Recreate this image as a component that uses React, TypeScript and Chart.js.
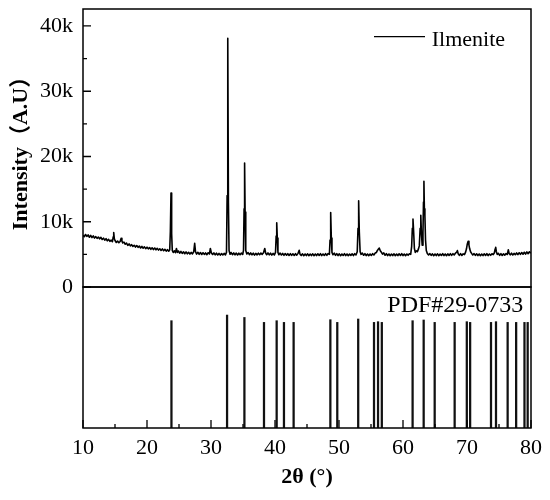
import React, { useEffect, useRef } from 'react';
import { Chart, registerables } from 'chart.js';

Chart.register(...registerables);

const FONT = "'Liberation Serif', 'Times New Roman', 'Noto Sans CJK SC', serif";

// 2θ (°) and intensity (k counts)
const traceData: [number, number][] = [
  [10.0, 7.92], [10.2, 7.70], [10.4, 8.05], [10.6, 7.75], [10.8, 7.98], [11.0, 7.62], [11.2, 7.90], [11.4, 7.58],
  [11.6, 7.82], [11.8, 7.50], [12.0, 7.72], [12.2, 7.45], [12.4, 7.66], [12.6, 7.38], [12.8, 7.60], [13.0, 7.28],
  [13.2, 7.48], [13.4, 7.18], [13.6, 7.40], [13.8, 7.08], [14.0, 7.30], [14.2, 7.00], [14.4, 7.18], [14.6, 6.95],
  [14.72, 7.7], [14.8, 8.35], [14.9, 7.4], [15.0, 7.12], [15.2, 6.82], [15.4, 7.05], [15.6, 6.78], [15.8, 6.98],
  [15.95, 7.45], [16.08, 7.05], [16.2, 6.75], [16.4, 6.88], [16.6, 6.55], [16.8, 6.72], [17.0, 6.38], [17.2, 6.60],
  [17.4, 6.30], [17.6, 6.48], [17.8, 6.22], [18.0, 6.40], [18.2, 6.12], [18.4, 6.35], [18.6, 6.08], [18.8, 6.28],
  [19.0, 5.98], [19.2, 6.22], [19.4, 5.95], [19.6, 6.15], [19.8, 5.88], [20.0, 6.10], [20.2, 5.85], [20.4, 6.05],
  [20.6, 5.78], [20.8, 6.00], [21.0, 5.74], [21.2, 5.98], [21.4, 5.70], [21.6, 5.92], [21.8, 5.66], [22.0, 5.86],
  [22.2, 5.60], [22.4, 5.84], [22.6, 5.56], [22.8, 5.78], [23.0, 5.50], [23.2, 5.72], [23.4, 5.48], [23.55, 5.70],
  [23.65, 8.5], [23.75, 14.4], [23.85, 8.2], [23.95, 5.6], [24.1, 5.30], [24.3, 5.55], [24.45, 5.25], [24.6, 5.90],
  [24.75, 5.30], [24.9, 5.52], [25.1, 5.18], [25.3, 5.45], [25.5, 5.15], [25.7, 5.40], [25.9, 5.10], [26.1, 5.38],
  [26.3, 5.08], [26.5, 5.32], [26.7, 5.05], [26.9, 5.30], [27.1, 5.08], [27.3, 5.40], [27.45, 6.70], [27.58, 5.40],
  [27.75, 5.05], [27.95, 5.32], [28.15, 5.00], [28.35, 5.28], [28.55, 4.98], [28.75, 5.25], [28.95, 5.00], [29.15, 5.22],
  [29.35, 4.95], [29.55, 5.25], [29.75, 5.05], [29.9, 5.90], [30.05, 5.25], [30.25, 4.98], [30.45, 5.22], [30.65, 4.92],
  [30.85, 5.18], [31.05, 4.90], [31.25, 5.15], [31.45, 4.88], [31.65, 5.12], [31.85, 4.90], [32.05, 5.15], [32.25, 4.92],
  [32.42, 5.30], [32.52, 14.0], [32.62, 38.1], [32.72, 13.0], [32.82, 5.60], [32.98, 5.02], [33.15, 5.28], [33.35, 4.95],
  [33.55, 5.22], [33.75, 4.92], [33.95, 5.20], [34.15, 4.90], [34.35, 5.18], [34.55, 4.95], [34.75, 5.20], [34.95, 4.98],
  [35.08, 5.6], [35.17, 12.0], [35.25, 19.0], [35.33, 11.5], [35.43, 5.6], [35.6, 5.05], [35.8, 5.28], [36.0, 4.95],
  [36.2, 5.22], [36.4, 4.92], [36.6, 5.18], [36.8, 4.88], [37.0, 5.15], [37.2, 4.92], [37.4, 5.18], [37.6, 4.95],
  [37.8, 5.20], [38.0, 5.00], [38.2, 5.25], [38.4, 5.90], [38.55, 5.15], [38.7, 4.95], [38.9, 5.22], [39.1, 4.92],
  [39.3, 5.18], [39.5, 4.88], [39.7, 5.15], [39.9, 4.90], [40.08, 5.3], [40.18, 7.8], [40.27, 9.85], [40.36, 7.5],
  [40.46, 5.3], [40.6, 4.95], [40.8, 5.20], [41.0, 4.90], [41.2, 5.15], [41.4, 4.85], [41.6, 5.12], [41.8, 4.88],
  [42.0, 5.10], [42.2, 4.84], [42.4, 5.10], [42.6, 4.86], [42.8, 5.08], [43.0, 4.84], [43.2, 5.10], [43.4, 4.88],
  [43.6, 5.15], [43.78, 5.62], [43.92, 5.00], [44.1, 4.82], [44.3, 5.08], [44.5, 4.80], [44.7, 5.06], [44.9, 4.82],
  [45.1, 5.08], [45.3, 4.80], [45.5, 5.05], [45.7, 4.82], [45.9, 5.08], [46.1, 4.80], [46.3, 5.06], [46.5, 4.82],
  [46.7, 5.08], [46.9, 4.84], [47.1, 5.10], [47.3, 4.82], [47.5, 5.06], [47.7, 4.84], [47.9, 5.10], [48.1, 4.86],
  [48.3, 5.12], [48.5, 5.00], [48.6, 7.2], [48.7, 11.4], [48.8, 7.5], [48.9, 5.3], [49.05, 4.95], [49.25, 5.18],
  [49.45, 4.86], [49.65, 5.10], [49.85, 4.82], [50.05, 5.08], [50.25, 4.80], [50.45, 5.06], [50.65, 4.84], [50.85, 5.10],
  [51.05, 4.82], [51.25, 5.06], [51.45, 4.80], [51.65, 5.05], [51.85, 4.84], [52.05, 5.08], [52.25, 4.82], [52.45, 5.10],
  [52.65, 4.90], [52.85, 5.40], [52.97, 9.0], [53.07, 13.2], [53.17, 8.5], [53.3, 5.40], [53.45, 5.00], [53.65, 5.20],
  [53.85, 4.86], [54.05, 5.10], [54.25, 4.82], [54.45, 5.06], [54.65, 4.80], [54.85, 5.06], [55.05, 4.84], [55.25, 5.10],
  [55.45, 4.90], [55.65, 5.20], [55.85, 5.30], [56.0, 5.60], [56.15, 5.80], [56.3, 5.95], [56.45, 5.55], [56.6, 5.35],
  [56.8, 5.05], [57.0, 5.22], [57.2, 4.86], [57.4, 5.10], [57.6, 4.82], [57.8, 5.06], [58.0, 4.80], [58.2, 5.05],
  [58.4, 4.82], [58.6, 5.08], [58.8, 4.80], [59.0, 5.05], [59.2, 4.82], [59.4, 5.08], [59.6, 4.84], [59.8, 5.10],
  [60.0, 4.82], [60.2, 5.05], [60.4, 4.80], [60.6, 5.06], [60.8, 4.86], [61.0, 5.10], [61.2, 5.00], [61.35, 6.2],
  [61.46, 9.0], [61.56, 10.4], [61.66, 8.5], [61.78, 5.9], [61.92, 5.30], [62.1, 5.55], [62.25, 5.40], [62.4, 5.80],
  [62.55, 6.30], [62.68, 9.0], [62.78, 11.0], [62.88, 8.2], [63.0, 6.40], [63.12, 8.3], [63.2, 13.0], [63.27, 16.2],
  [63.34, 12.0], [63.42, 11.0], [63.52, 7.2], [63.64, 5.60], [63.8, 5.15], [64.0, 4.90], [64.2, 5.12], [64.4, 4.84],
  [64.6, 5.08], [64.8, 4.80], [65.0, 5.06], [65.2, 4.82], [65.4, 5.08], [65.6, 4.80], [65.8, 5.05], [66.0, 4.84],
  [66.2, 5.10], [66.4, 4.82], [66.6, 5.06], [66.8, 4.80], [67.0, 5.08], [67.2, 4.84], [67.4, 5.10], [67.6, 4.86],
  [67.8, 5.10], [68.0, 4.90], [68.2, 5.20], [68.4, 5.35], [68.5, 5.58], [68.62, 5.10], [68.8, 4.86], [69.0, 5.10],
  [69.2, 4.84], [69.4, 5.08], [69.6, 4.96], [69.78, 5.35], [69.92, 5.85], [70.05, 6.60], [70.18, 7.00], [70.3, 6.45],
  [70.42, 5.85], [70.56, 5.40], [70.72, 5.15], [70.9, 4.90], [71.1, 5.12], [71.3, 4.84], [71.5, 5.08], [71.7, 4.82],
  [71.9, 5.06], [72.1, 4.80], [72.3, 5.05], [72.5, 4.82], [72.7, 5.08], [72.9, 4.84], [73.1, 5.10], [73.3, 4.82],
  [73.5, 5.06], [73.7, 4.86], [73.9, 5.10], [74.1, 4.96], [74.28, 5.25], [74.4, 5.85], [74.48, 6.10], [74.58, 5.45],
  [74.72, 5.00], [74.9, 5.15], [75.1, 4.86], [75.3, 5.10], [75.5, 4.84], [75.7, 5.08], [75.9, 4.88], [76.1, 5.12],
  [76.3, 4.98], [76.45, 5.70], [76.58, 5.15], [76.75, 4.92], [76.95, 5.18], [77.15, 4.90], [77.35, 5.15], [77.55, 4.94],
  [77.75, 5.22], [77.95, 4.96], [78.15, 5.25], [78.35, 5.00], [78.55, 5.28], [78.75, 5.02], [78.95, 5.32], [79.15, 5.05],
  [79.35, 5.38], [79.55, 5.10], [79.75, 5.40], [80.0, 5.20],
];

// PDF#29-0733 reference lines: 2θ positions and relative heights (0–100)
const pdfTheta = [
  23.82, 32.51, 35.22, 38.28, 40.26, 41.4, 42.91, 48.65, 49.73, 53.0, 55.47, 56.1, 56.69,
  61.5, 63.23, 64.95, 68.07, 69.97, 70.49, 73.75, 74.53, 76.35, 77.68, 78.98, 79.48,
];
const pdfHeight = [
  76.1, 80.1, 78.4, 74.9, 76.1, 74.9, 74.9, 76.8, 74.9, 77.3, 74.9, 75.4, 74.9,
  76.1, 76.6, 74.9, 74.9, 75.4, 74.9, 74.9, 75.4, 74.9, 74.9, 74.9, 74.9,
];

const xRange = [10, 80];
const yRange = [0, 42.6];
const seriesLabel = 'Ilmenite';
const cardLabel = 'PDF#29-0733';
const xTitle = '2θ (°)';
const yTitle = 'Intensity（A.U）';

const decorPlugin = {
  id: 'decor',
  afterDraw(chart: any) {
    const { ctx } = chart;
    const x = chart.scales.x;
    const y = chart.scales.y;
    const y2 = chart.scales.y2;
    const left = x.left;
    const right = x.right;
    ctx.save();
    ctx.strokeStyle = '#000';
    ctx.fillStyle = '#000';
    ctx.lineWidth = 1.5;
    ctx.strokeRect(left, y.top, right - left, y.bottom - y.top);
    ctx.strokeRect(left, y2.top, right - left, y2.bottom - y2.top);

    ctx.lineWidth = 1.3;
    ctx.beginPath();
    y.ticks.forEach((t: any) => {
      if (t.value % 10 !== 0) return;
      const p = y.getPixelForValue(t.value);
      ctx.moveTo(left, p);
      ctx.lineTo(left + 8, p);
      const m = t.value + 5;
      if (m < y.max) {
        const pm = y.getPixelForValue(m);
        ctx.moveTo(left, pm);
        ctx.lineTo(left + 4, pm);
      }
    });
    x.ticks.forEach((t: any) => {
      const p = x.getPixelForValue(t.value);
      ctx.moveTo(p, x.top);
      ctx.lineTo(p, x.top - 8);
      const m = t.value + 5;
      if (m < x.max) {
        const pm = x.getPixelForValue(m);
        ctx.moveTo(pm, x.top);
        ctx.lineTo(pm, x.top - 4);
      }
    });
    ctx.stroke();

    // legend
    ctx.lineWidth = 1.3;
    ctx.beginPath();
    ctx.moveTo(right - 157, y.top + 27.7);
    ctx.lineTo(right - 106, y.top + 27.7);
    ctx.stroke();
    ctx.font = `22px ${FONT}`;
    ctx.textAlign = 'left';
    ctx.textBaseline = 'alphabetic';
    ctx.fillText(seriesLabel, right - 99.3, y.top + 36.7);

    // reference card label
    ctx.font = `24px ${FONT}`;
    ctx.textAlign = 'right';
    ctx.fillText(cardLabel, right - 7.7, y2.top + 25.3);
    ctx.restore();
  },
};

const noPad = (s: any) => {
  s.paddingTop = 0;
  s.paddingBottom = 0;
};

export default function App() {
  const ref = useRef<HTMLCanvasElement | null>(null);

  useEffect(() => {
    if (!ref.current) return;
    const chart = new Chart(ref.current, {
      type: 'bar',
      data: {
        datasets: [
          {
            type: 'line',
            label: seriesLabel,
            data: traceData.map(([t, v]) => ({ x: t, y: v })),
            xAxisID: 'x',
            yAxisID: 'y',
            borderColor: '#000',
            borderWidth: 1.6,
            borderJoinStyle: 'round',
            pointRadius: 0,
            tension: 0,
            fill: false,
          } as any,
          {
            type: 'bar',
            label: cardLabel,
            data: pdfTheta.map((t, i) => ({ x: t, y: pdfHeight[i] })),
            xAxisID: 'x',
            yAxisID: 'y2',
            backgroundColor: '#111',
            borderWidth: 0,
            barThickness: 1.6,
          } as any,
        ],
      },
      options: {
        responsive: false,
        animation: false,
        layout: { padding: { top: 9, right: 19, left: 0, bottom: 0 } },
        plugins: { legend: { display: false }, tooltip: { enabled: false } },
        scales: {
          x: {
            type: 'linear',
            min: xRange[0],
            max: xRange[1],
            offset: false,
            ticks: {
              stepSize: 10,
              autoSkip: false,
              maxRotation: 0,
              padding: 7,
              color: '#000',
              font: { family: FONT, size: 22 },
            },
            grid: { display: false, drawTicks: false, offset: false },
            border: { display: false },
            title: {
              display: true,
              text: xTitle,
              color: '#000',
              font: { family: FONT, size: 22, weight: 'bold' },
              padding: { top: 0, bottom: 9 },
            },
            afterFit: (s: any) => {
              s.height = 72;
              s.paddingLeft = 0;
              s.paddingRight = 0;
            },
          },
          y: {
            type: 'linear',
            position: 'left',
            stack: 'panels',
            stackWeight: 278,
            weight: 2,
            min: yRange[0],
            max: yRange[1],
            ticks: {
              stepSize: 10,
              includeBounds: false,
              padding: 10,
              color: '#000',
              font: { family: FONT, size: 22 },
              callback: (v: any) => (v % 10 === 0 ? (v === 0 ? '0' : `${v}k`) : ''),
            },
            grid: { display: false, drawTicks: false },
            border: { display: false },
            title: {
              display: true,
              text: yTitle,
              color: '#000',
              font: { family: FONT, size: 22, weight: 'bold' },
              padding: { top: 8, bottom: 0 },
            },
            afterFit: (s: any) => {
              s.width = 83;
              noPad(s);
            },
          },
          y2: {
            type: 'linear',
            position: 'left',
            stack: 'panels',
            stackWeight: 141,
            weight: 1,
            min: 0,
            max: 100,
            ticks: { display: false },
            grid: { display: false, drawTicks: false },
            border: { display: false },
            afterFit: (s: any) => {
              s.width = 83;
              noPad(s);
            },
          },
        },
      } as any,
      plugins: [decorPlugin],
    });
    return () => chart.destroy();
  }, []);

  return (
    <div style={{ position: 'absolute', left: 0, top: 0, width: 550, height: 500, background: '#fff' }}>
      <canvas ref={ref} width={550} height={500} style={{ display: 'block', width: 550, height: 500 }} />
    </div>
  );
}
